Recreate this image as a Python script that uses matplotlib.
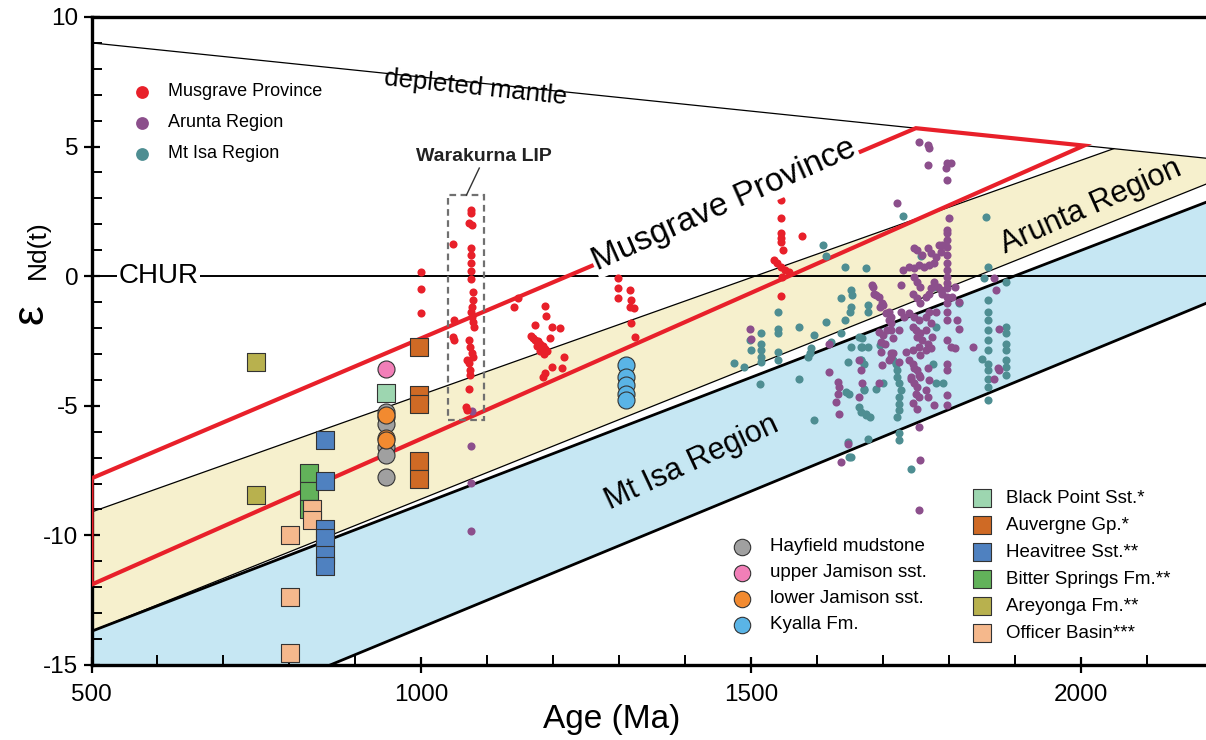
import numpy as np
import matplotlib.pyplot as plt
from matplotlib.patches import Polygon, Rectangle

plt.rcParams['font.family'] = ['Liberation Sans', 'DejaVu Sans']
plt.rcParams['axes.unicode_minus'] = False

# ---- reference lines and fields (age in Ma, eps Nd) ----
dm_age = [500, 2190]
dm_eps = [9.0, 4.55]
chur_eps = 0.0

musg_upper = [(500, -7.8), (1750, None)]     # top end sits on DM line
musg_lower = [(500, -11.9), (2005, None)]
arunta_top = [(500, -9.1), (2050, None)]
arunta_bot = [(500, -13.7), (2190, 3.55)]
mtisa_top = [(500, -13.7), (2190, 2.85)]
mtisa_bot = [(862, -15.0), (2190, -1.05)]

# ---- small-dot datasets ----
musgrave_age = [999, 999, 999,
                1075, 1075, 1073, 1077, 1075, 1075, 1075, 1075, 1075, 1048,
                1078, 1079, 1077, 1075, 1077, 1079, 1080, 1050, 1048, 1050,
                1072, 1074, 1077, 1079, 1069, 1072, 1074, 1074, 1072, 1068, 1070,
                1146, 1141, 1187, 1189, 1172, 1199, 1210,
                1166, 1170, 1173, 1177, 1180, 1184, 1187, 1190, 1180, 1186, 1176, 1195,
                1217, 1214, 1199, 1187, 1184,
                1298, 1298, 1298, 1316, 1318, 1316, 1322, 1318, 1324,
                1546, 1546, 1546, 1546, 1546, 1549, 1578, 1535, 1540, 1546, 1551, 1558, 1547, 1546]
musgrave_eps = [0.17, -0.51, -1.42,
                2.55, 2.43, 2.05, 1.97, 1.1, 0.8, 0.5, 0.2, -0.1, 1.23,
                -0.62, -0.93, -1.2, -1.4, -1.58, -1.77, -1.97, -1.7, -2.35, -2.47,
                -2.47, -2.74, -2.97, -3.13, -3.24, -3.36, -3.63, -3.82, -4.36, -5.06, -5.17,
                -0.85, -1.2, -1.16, -1.54, -1.89, -1.97, -2.0,
                -2.3, -2.4, -2.45, -2.5, -2.6, -2.7, -2.8, -2.9, -2.9, -3.0, -2.7, -2.4,
                -3.13, -3.55, -3.5, -3.75, -3.9,
                -0.08, -0.46, -0.85, -0.54, -0.93, -1.2, -1.24, -1.81, -2.35,
                2.93, 2.24, 1.66, 1.47, 1.31, 1.0, 1.54, 0.62, 0.5, 0.35, 0.23, 0.15, -0.04, -0.77]

arunta_age = [1077, 1075, 1075, 1075,
              1755, 1768, 1770, 1768, 1798, 1803, 1795, 1798, 1722, 1800,
              1798, 1798, 1798, 1798, 1798, 1798, 1798, 1798, 1798, 1798, 1798, 1798, 1798, 1798,
              1790, 1785, 1788, 1780,
              1747, 1752, 1768, 1773, 1760,
              1730, 1740, 1747, 1755, 1762, 1770, 1778,
              1727, 1747, 1752, 1757, 1745, 1752, 1757, 1765, 1770, 1773, 1783, 1788, 1790, 1778,
              1684, 1687, 1694, 1699,
              1709, 1712, 1727, 1732, 1740, 1747, 1755, 1765, 1770, 1780,
              1694, 1697, 1712, 1712, 1725, 1715, 1745, 1750, 1757, 1765, 1773, 1775, 1752, 1760,
              1768, 1773, 1755, 1745, 1735, 1765, 1757,
              1805, 1810, 1816, 1813, 1816, 1836, 1798, 1803, 1810, 1798, 1798,
              1697, 1699, 1712, 1694, 1709,
              1740, 1745, 1747, 1752, 1755, 1757, 1742, 1747, 1752, 1750, 1755, 1745, 1768, 1770,
              1765, 1768, 1752, 1778, 1798, 1798,
              1664, 1667, 1669, 1664,
              1871, 1869, 1876, 1874, 1869, 1876,
              1755, 1757, 1755,
              1498, 1500, 1619, 1619, 1632, 1634, 1632, 1629, 1634, 1647, 1637,
              1685, 1690, 1695, 1700, 1705, 1710, 1707, 1700, 1703, 1715, 1725, 1712, 1743]
arunta_eps = [-5.2, -6.56, -7.99, -9.85,
              5.19, 5.06, 4.93, 4.29, 4.35, 4.35, 4.16, 3.71, 2.81, 2.23,
              1.78, 1.65, 1.39, 1.14, 0.81, 0.49, 0.24, -0.02, -0.28, -0.47, -0.8, -1.05, -1.37, -1.7,
              1.2, 1.2, 0.94, 0.75,
              1.07, 1.01, 1.07, 0.88, 0.81,
              0.24, 0.36, 0.3, 0.43, 0.36, 0.43, 0.49,
              -0.34, -0.02, -0.22, -0.41, -0.67, -0.86, -1.05, -0.8, -0.67, -0.47, -0.41, -0.54, -0.67, -0.22,
              -0.34, -0.67, -0.8, -1.05,
              -1.37, -1.57, -1.37, -1.57, -1.44, -1.57, -1.7, -1.57, -1.37, -1.37,
              -2.15, -2.53, -1.82, -2.08, -2.08, -2.4, -1.95, -2.08, -2.21, -2.08, -1.82, -2.34, -2.34, -2.47,
              -2.6, -2.79, -2.73, -2.85, -2.92, -2.85, -3.05,
              -0.8, -0.41, -0.99, -1.7, -2.02, -2.73, -2.47, -2.73, -2.79, -3.37, -3.63,
              -2.92, -3.43, -3.11, -4.14, -3.24,
              -3.24, -3.37, -3.56, -3.63, -3.82, -3.88, -3.95, -4.14, -4.27, -4.53, -4.66, -4.91, -3.56, -4.01,
              -4.4, -4.66, -5.11, -4.98, -4.59, -4.98,
              -3.24, -3.63, -4.14, -4.66,
              -0.54, -0.09, -2.02, -3.56, -3.95, -3.63,
              -5.81, -7.1, -9.03,
              -2.02, -2.41, -2.6, -3.69, -4.08, -4.27, -4.53, -4.85, -5.3, -6.46, -7.17,
              -0.41, -0.73, -1.18, -1.12, -1.44, -1.7, -2.08, -2.28, -2.6, -2.98, -3.31, -2.98, -3.9]

mtisa_age = [1609, 1614, 1642, 1675,
             1652, 1653, 1637, 1652, 1650, 1677, 1677,
             1541, 1541, 1541, 1541, 1541,
             1573, 1614, 1642, 1596, 1637,
             1515, 1515, 1515, 1515, 1515, 1500, 1498,
             1475, 1490, 1591, 1586, 1621, 1589,
             1652, 1667, 1677, 1669, 1647, 1667,
             1695, 1715, 1720, 1722, 1722, 1725, 1727, 1725, 1725, 1725, 1722, 1725, 1725,
             1573, 1513,
             1644, 1649, 1672, 1690, 1700,
             1664, 1667, 1675, 1680, 1596, 1677, 1649, 1743,
             1781, 1791, 1776, 1781, 1816, 1778, 1758, 1730,
             1856, 1859, 1854,
             1859, 1859, 1859, 1859, 1859, 1859, 1850, 1859, 1859, 1859, 1859, 1859,
             1887, 1887, 1887, 1887, 1887, 1887, 1887, 1887,
             1664, 1669, 1667, 1672, 1672, 1647, 1652, 1675]
mtisa_eps = [1.2, 0.77, 0.36, 0.3,
             -0.54, -0.73, -0.85, -1.18, -1.38, -1.12, -1.38,
             -1.38, -2.02, -2.21, -2.92, -3.24,
             -1.96, -1.76, -1.7, -2.28, -2.21,
             -2.21, -2.6, -2.86, -3.11, -3.31, -2.86, -2.47,
             -3.35, -3.5, -2.79, -3.11, -2.54, -2.98,
             -2.73, -2.73, -2.73, -2.4, -3.31, -3.24,
             -2.66, -3.24, -3.37, -3.63, -3.89, -4.14, -4.4, -4.66, -4.92, -5.17, -5.43, -6.07, -6.33,
             -3.95, -4.17,
             -4.47, -4.53, -4.4, -4.34, -4.14,
             -5.05, -5.24, -5.37, -5.43, -5.56, -6.27, -6.98, -7.43,
             -4.14, -4.14, -3.37, -1.96, -1.05, -0.41, 0.77, 2.32,
             2.27, 0.36, -0.09,
             -0.93, -1.38, -1.7, -2.08, -2.47, -2.86, -3.18, -3.37, -3.63, -3.95, -4.27, -4.79,
             -0.22, -1.96, -2.21, -2.6, -2.86, -3.24, -3.5, -3.82,
             -2.34, -2.73, -3.24, -3.37, -4.34, -6.4, -6.98, -5.3]

# ---- sedimentary units (large markers) ----
hayfield_age = [947, 947, 947, 947, 947, 947]
hayfield_eps = [-5.24, -5.43, -5.69, -6.59, -6.91, -7.75]
upper_jam_age = [947]
upper_jam_eps = [-3.6]
lower_jam_age = [947, 947, 947]
lower_jam_eps = [-5.37, -6.23, -6.33]
kyalla_age = [1311, 1311, 1311, 1311, 1311]
kyalla_eps = [-3.44, -3.89, -4.21, -4.53, -4.79]

blackpoint_age = [947]
blackpoint_eps = [-4.5]
auvergne_age = [997, 997, 997, 997, 997]
auvergne_eps = [-2.73, -4.59, -4.92, -7.13, -7.81]
heavitree_age = [854, 854, 854, 854, 854, 854]
heavitree_eps = [-6.31, -7.92, -9.74, -10.09, -10.77, -11.2]
bitter_age = [830, 830, 830]
bitter_eps = [-7.6, -8.3, -9.0]
areyonga_age = [749, 749]
areyonga_eps = [-3.31, -8.46]
officer_age = [835, 835, 801, 801, 801]
officer_eps = [-8.97, -9.42, -10.0, -12.38, -14.54]

red = '#e8202a'
purple = '#8c4f8c'
teal = '#4e8e92'
yellow_fill = '#f6f0cd'
blue_fill = '#c6e7f3'


def dm(t):
    return float(np.interp(t, dm_age, dm_eps))


fig = plt.figure(figsize=(12.06, 7.40), dpi=100)
ax = fig.add_axes([0.0759, 0.1014, 0.9241, 0.8757])
ax.set_xlim(500, 2190)
ax.set_ylim(-15, 10)

# bands
a_top_end = (arunta_top[1][0], dm(arunta_top[1][0]))
ax.add_patch(Polygon([arunta_top[0], a_top_end, (dm_age[1], dm_eps[1]),
                      arunta_bot[1], arunta_bot[0]],
                     closed=True, fc=yellow_fill, ec='none', zorder=1))
ax.add_patch(Polygon([mtisa_top[0], mtisa_top[1], mtisa_bot[1], mtisa_bot[0], (500, -15)],
                     closed=True, fc=blue_fill, ec='none', zorder=1))

ax.plot([arunta_top[0][0], a_top_end[0]], [arunta_top[0][1], a_top_end[1]], color='k', lw=0.9, zorder=2)
ax.plot(*zip(*arunta_bot), color='k', lw=0.9, zorder=2)
ax.plot(*zip(*mtisa_top), color='k', lw=2.0, zorder=2)
ax.plot(*zip(*mtisa_bot), color='k', lw=2.0, zorder=2)
ax.plot(dm_age, dm_eps, color='k', lw=0.9, zorder=2)
ax.axhline(chur_eps, color='k', lw=1.4, zorder=2)

# Musgrave Province field
m_pts = [musg_upper[0], (musg_upper[1][0], dm(musg_upper[1][0])),
         (musg_lower[1][0], dm(musg_lower[1][0])), musg_lower[0]]
ax.add_patch(Polygon(m_pts, closed=True, fc='none', ec=red, lw=3.0, zorder=3))

# data points
ax.scatter(mtisa_age, mtisa_eps, s=34, color=teal, lw=0, zorder=4)
ax.scatter(arunta_age, arunta_eps, s=34, color=purple, lw=0, zorder=4)
ax.scatter(musgrave_age, musgrave_eps, s=34, color=red, lw=0, zorder=4)

big = dict(s=150, edgecolors='#333333', linewidths=0.8, zorder=5)
ax.scatter(areyonga_age, areyonga_eps, marker='s', color='#b8b14e', **big)
ax.scatter(bitter_age, bitter_eps, marker='s', color='#62b25a', **big)
ax.scatter(officer_age, officer_eps, marker='s', color='#f5b88c', **big)
ax.scatter(heavitree_age, heavitree_eps, marker='s', color='#4f81c0', **big)
ax.scatter(hayfield_age, hayfield_eps, marker='o', color='#a0a0a0', **big)
ax.scatter(lower_jam_age, lower_jam_eps, marker='o', color='#f28a30', **big)
ax.scatter(upper_jam_age, upper_jam_eps, marker='o', color='#f27fb8', **big)
ax.scatter(blackpoint_age, blackpoint_eps, marker='s', color='#9dd6b0', **big)
ax.scatter(auvergne_age, auvergne_eps, marker='s', color='#cf6a25', **big)
ax.scatter(kyalla_age, kyalla_eps, marker='o', color='#5ab4e6', **big)

# Warakurna LIP box
ax.add_patch(Rectangle((1040, -5.56), 55, 8.69, fill=False, ec='#707070', lw=1.6,
                       ls=(0, (3, 2)), zorder=6))
ax.plot([1068.6, 1088], [3.13, 4.17], color='#333333', lw=1.0, zorder=6)
ax.text(1095, 4.6, 'Warakurna LIP', fontsize=14, fontweight='bold', ha='center', va='center',
        color='#222222', zorder=6)

# labels on plot
ax.text(1083, 7.26, 'depleted mantle', fontsize=18.5, rotation=-6, ha='center', va='center', zorder=6)
ax.text(602, 0, 'CHUR', fontsize=20, ha='center', va='center', zorder=6,
        bbox=dict(fc='white', ec='none', pad=1))
ax.text(1460, 2.74, 'Musgrave Province', fontsize=24, rotation=24, ha='center', va='center',
        rotation_mode='anchor', zorder=6, bbox=dict(fc='white', ec='none', pad=1))
ax.text(2015, 2.68, 'Arunta Region', fontsize=22, rotation=24, ha='center', va='center',
        rotation_mode='anchor', zorder=6)
ax.text(1411, -7.18, 'Mt Isa Region', fontsize=22, rotation=25, ha='center', va='center',
        rotation_mode='anchor', zorder=6)

# legends
leg1 = [('Musgrave Province', red), ('Arunta Region', purple), ('Mt Isa Region', teal)]
for i, (lab, c) in enumerate(leg1):
    y = 0.8847 - i * 0.048
    ax.scatter(0.045, y, s=85, color=c, lw=0, transform=ax.transAxes, zorder=7)
    ax.text(0.0687, y, lab, fontsize=13, va='center', transform=ax.transAxes, zorder=7)

leg2 = [('Hayfield mudstone', '#a0a0a0'), ('upper Jamison sst.', '#f27fb8'),
        ('lower Jamison sst.', '#f28a30'), ('Kyalla Fm.', '#5ab4e6')]
for i, (lab, c) in enumerate(leg2):
    y = 0.1826 - i * 0.0403
    ax.scatter(0.584, y, s=140, marker='o', color=c, edgecolors='#333333', linewidths=0.8,
               transform=ax.transAxes, zorder=7)
    ax.text(0.6088, y, lab, fontsize=13.5, va='center', transform=ax.transAxes, zorder=7)

leg3 = [('Black Point Sst.*', '#9dd6b0'), ('Auvergne Gp.*', '#cf6a25'),
        ('Heavitree Sst.**', '#4f81c0'), ('Bitter Springs Fm.**', '#62b25a'),
        ('Areyonga Fm.**', '#b8b14e'), ('Officer Basin***', '#f5b88c')]
for i, (lab, c) in enumerate(leg3):
    y = 0.2573 - i * 0.0417
    ax.scatter(0.7988, y, s=150, marker='s', color=c, edgecolors='#333333', linewidths=0.8,
               transform=ax.transAxes, zorder=7)
    ax.text(0.8206, y, lab, fontsize=13.5, va='center', transform=ax.transAxes, zorder=7)

# axes styling
for s in ['left', 'bottom', 'top']:
    ax.spines[s].set_linewidth(2.4)
ax.spines['right'].set_visible(False)
ax.set_xticks([500, 1000, 1500, 2000])
ax.set_xticks(np.arange(600, 2200, 100), minor=True)
ax.set_yticks([-15, -10, -5, 0, 5, 10])
ax.set_yticks(np.arange(-14, 10, 1), minor=True)
ax.tick_params(which='major', direction='inout', length=12, width=1.6, labelsize=17.5)
ax.tick_params(which='minor', direction='in', length=7, width=1.4)
ax.tick_params(axis='x', pad=8)

ax.set_xlabel('Age (Ma)', fontsize=24)
ax.xaxis.set_label_coords(0.467, -0.06)
fig.text(0.026, 1 - 314 / 740, '\u03b5', fontsize=32, rotation=90, ha='center', va='center')
fig.text(0.031, 1 - 250 / 740, 'Nd(t)', fontsize=19, rotation=90, ha='center', va='center')

fig.savefig('out.png', dpi=100, facecolor='white')
